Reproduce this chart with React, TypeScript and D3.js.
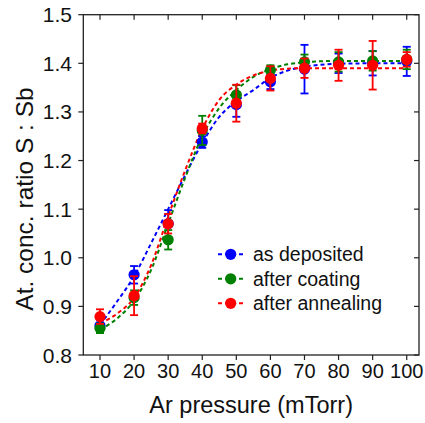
import React from "react";
import * as d3 from "d3";

const W = 425;
const H = 423;

const pressures = [10, 20, 30, 40, 50, 60, 70, 80, 90, 100];

const blueVals = [0.86, 0.965, 1.07, 1.238, 1.315, 1.362, 1.388, 1.4, 1.4, 1.404];
const blueErr = [0.012, 0.018, 0.028, 0.012, 0.025, 0.015, 0.05, 0.02, 0.025, 0.03];
const greenVals = [0.855, 0.918, 1.037, 1.262, 1.335, 1.386, 1.403, 1.403, 1.405, 1.408];
const greenErr = [0.01, 0.015, 0.02, 0.03, 0.02, 0.01, 0.015, 0.02, 0.02, 0.02];
const redVals = [0.879, 0.922, 1.07, 1.266, 1.318, 1.369, 1.39, 1.396, 1.396, 1.408];
const redErr = [0.015, 0.04, 0.02, 0.01, 0.038, 0.025, 0.02, 0.032, 0.05, 0.015];

const fitX = [10, 15, 20, 25, 30, 35, 40, 45, 50, 55, 60, 65, 70, 80, 90, 100];
const blueFit = [0.862, 0.91, 0.962, 1.03, 1.1, 1.17, 1.236, 1.29, 1.322, 1.345, 1.37, 1.385, 1.393, 1.399, 1.4, 1.4];
const greenFit = [0.852, 0.875, 0.912, 0.975, 1.07, 1.165, 1.25, 1.308, 1.345, 1.372, 1.388, 1.398, 1.402, 1.405, 1.405, 1.405];
const redFit = [0.865, 0.885, 0.918, 0.985, 1.085, 1.18, 1.265, 1.325, 1.356, 1.375, 1.385, 1.389, 1.39, 1.39, 1.39, 1.39];

const xTicks = [10, 20, 30, 40, 50, 60, 70, 80, 90, 100];
const yTicks = [0.8, 0.9, 1.0, 1.1, 1.2, 1.3, 1.4, 1.5];

const seriesNames = ["as deposited", "after coating", "after annealing"];
const seriesColors = ["#0000ff", "#008000", "#ff0000"];

const series = [
  { name: seriesNames[0], color: seriesColors[0], vals: blueVals, err: blueErr, fit: blueFit },
  { name: seriesNames[1], color: seriesColors[1], vals: greenVals, err: greenErr, fit: greenFit },
  { name: seriesNames[2], color: seriesColors[2], vals: redVals, err: redErr, fit: redFit },
];

const L = 83.3, R = 419, T = 14.7, B = 355;

export default function App() {
  const x = d3.scaleLinear().domain([5.1, 103.6]).range([L, R]);
  const y = d3.scaleLinear().domain([0.8, 1.5]).range([B, T]);
  const line = d3
    .line<number>()
    .x((_, i) => x(fitX[i]))
    .y((d) => y(d))
    .curve(d3.curveMonotoneX);
  const font = "Liberation Sans, Arial, sans-serif";
  const axisColor = "#222";
  const capW = 4;
  return (
    <svg width={W} height={H} style={{ position: "absolute", left: 0, top: 0, background: "#fff" }} fontFamily={font}>
      {/* fit lines */}
      {series.map((s) => (
        <path key={"fit" + s.name} d={line(s.fit) || ""} fill="none" stroke={s.color} strokeWidth={2} strokeDasharray="4,3" />
      ))}
      {/* points and error bars */}
      {series.map((s) => (
        <g key={"pts" + s.name}>
          {pressures.map((p, i) => (
            <circle key={i} cx={x(p)} cy={y(s.vals[i])} r={5.6} fill={s.color} />
          ))}
          {pressures.map((p, i) => {
            const cx = x(p);
            const y1 = y(s.vals[i] + s.err[i]);
            const y2 = y(s.vals[i] - s.err[i]);
            return (
              <g key={"e" + i} stroke={s.color} strokeWidth={1.8}>
                <line x1={cx} x2={cx} y1={y1} y2={y2} />
                <line x1={cx - capW} x2={cx + capW} y1={y1} y2={y1} />
                <line x1={cx - capW} x2={cx + capW} y1={y2} y2={y2} />
              </g>
            );
          })}
        </g>
      ))}
      {/* frame */}
      <rect x={L} y={T} width={R - L} height={B - T} fill="none" stroke={axisColor} strokeWidth={1.3} />
      {xTicks.map((t) => (
        <g key={"xt" + t} stroke={axisColor} strokeWidth={1.2}>
          <line x1={x(t)} x2={x(t)} y1={B} y2={B + 5} />
          <line x1={x(t)} x2={x(t)} y1={T} y2={T + 5} />
        </g>
      ))}
      {yTicks.map((t) => (
        <g key={"yt" + t} stroke={axisColor} strokeWidth={1.2}>
          <line x1={L - 5} x2={L} y1={y(t)} y2={y(t)} />
          <line x1={R - 5} x2={R} y1={y(t)} y2={y(t)} />
        </g>
      ))}
      {xTicks.map((t) => (
        <text key={"xl" + t} x={x(t)} y={378} textAnchor="middle" fontSize={20} fill="#111">
          {t}
        </text>
      ))}
      {yTicks.map((t) => (
        <text key={"yl" + t} x={72} y={y(t) + 7.5} textAnchor="end" fontSize={21} fill="#111">
          {t.toFixed(1)}
        </text>
      ))}
      <text x={(L + R) / 2} y={413} textAnchor="middle" fontSize={23.5} fill="#111">
        Ar pressure (mTorr)
      </text>
      <text transform={`translate(33,199) rotate(-90)`} textAnchor="middle" fontSize={24.5} fill="#111">
        At. conc. ratio S : Sb
      </text>
      {/* legend */}
      {series.map((s, i) => {
        const ly = 254.3 + i * 24.5;
        return (
          <g key={"lg" + s.name}>
            <line x1={218} x2={243} y1={ly} y2={ly} stroke={s.color} strokeWidth={2} strokeDasharray="4,3" />
            <circle cx={230.7} cy={ly} r={5.6} fill={s.color} />
            <text x={253} y={ly + 7} fontSize={19.5} fill="#111">
              {s.name}
            </text>
          </g>
        );
      })}
    </svg>
  );
}
